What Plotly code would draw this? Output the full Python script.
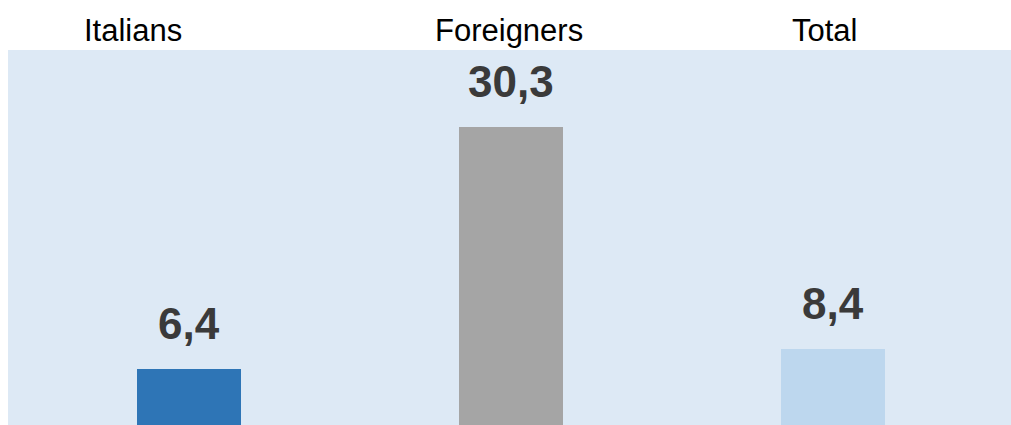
import plotly.graph_objects as go

categories = ["Italians", "Foreigners", "Total"]
values = [6.4, 30.3, 8.4]
bar_colors = ["#2E75B6", "#A5A5A5", "#BDD7EE"]
label_shift = [-56, -2, -8]  # header label offsets (px) relative to bar centre

fig = go.Figure()
fig.add_trace(go.Bar(
    x=categories, y=values,
    marker=dict(color=bar_colors, line=dict(width=0)),
    width=0.323,
    hoverinfo="skip",
))

for c, v in zip(categories, values):
    fig.add_annotation(
        x=c, y=v, xref="x", yref="y",
        text=f"{v:.1f}".replace(".", ","),
        showarrow=False, yanchor="bottom", yshift=19,
        font=dict(family="Liberation Sans Narrow, Arial Narrow, Liberation Sans", size=44,
                  color="#3A3A3A", weight="bold"),
    )

for c, s in zip(categories, label_shift):
    fig.add_annotation(
        x=c, y=1, xref="x", yref="paper",
        text=c, showarrow=False, yanchor="bottom", xshift=s, yshift=0,
        font=dict(family="Liberation Sans, Arial", size=31, color="#000000"),
    )

fig.update_layout(
    width=1019, height=425,
    margin=dict(l=8, r=0, t=50, b=0),
    paper_bgcolor="#FFFFFF",
    plot_bgcolor="#DDE9F5",
    showlegend=False,
    bargap=0,
    xaxis=dict(type="category", range=[-0.562, 2.578], showticklabels=False,
               showgrid=False, zeroline=False, showline=False, ticks=""),
    yaxis=dict(range=[0.86, 37.94], showticklabels=False, showgrid=False,
               zeroline=False, showline=False, ticks=""),
)

bg = "linear-gradient(#FFFFFF 0px, #FFFFFF 50px, #DDE9F5 50px, #DDE9F5 100%)"
fig.write_html(
    "out.html", config={"displayModeBar": False},
    post_script=("document.documentElement.style.overflow='hidden';"
                 "document.documentElement.style.background='" + bg + "';"
                 "document.body.style.margin='0';document.body.style.overflow='hidden';"),
)
